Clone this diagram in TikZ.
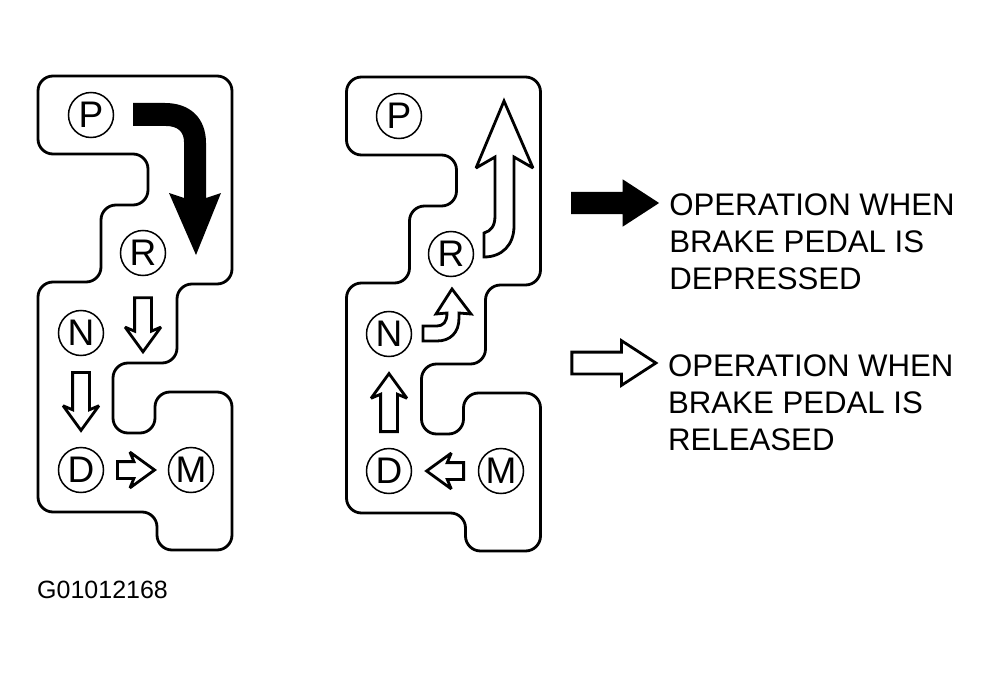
\documentclass[tikz,border=0pt]{standalone}
\usepackage{fontspec}
\setmainfont{Liberation Sans}
\usetikzlibrary{positioning,shapes.arrows}

\tikzset{
    gate/.pic={
        \draw[gateline] (38,76) -- (232,76) -- (232,284) -- (177,284) -- (177,363) -- (113,363)
            -- (113,433) -- (155,433) -- (155,392) -- (232,392) -- (232,550) -- (157,550)
            -- (157,512) -- (38,512) -- (38,282) -- (101,282) -- (101,205) -- (148,205)
            -- (148,154) -- (38,154) -- cycle;
    }
}

\begin{document}
\begin{tikzpicture}[
    x=1pt, y=-1pt,
    gateline/.style={line width=2.8pt, rounded corners=15pt},
    lever/.style={on grid, draw, circle, line width=1.5pt, minimum size=45pt, inner sep=0pt, font=\fontsize{37}{37}\selectfont},
    hollowarrow/.style={on grid, draw, line width=2.8pt, fill=white, single arrow, inner xsep=0pt, inner ysep=7pt, outer sep=0pt, minimum width=33pt, single arrow head extend=9.5pt, single arrow tip angle=72, single arrow head indent=4pt, miter limit=3},
    keyarrow/.style={on grid, single arrow, inner xsep=0pt, inner ysep=11pt, outer sep=0pt, minimum height=88pt, minimum width=47pt, single arrow head extend=12.5pt, single arrow tip angle=66, single arrow head indent=0pt},
    keytext/.style={align=left, inner sep=0pt, font=\fontsize{31.2}{37}\selectfont},
    curved/.style={line width=2.8pt, fill=white, miter limit=3}
]
\useasboundingbox (0,0) rectangle (991,674);

% left gate
\pic at (0,0) {gate};
\node[lever] (lP) at (91,115) {P};
\node[lever, below right=138pt and 52pt of lP] (lR) {R};
\node[lever, below left=80pt and 62pt of lR] (lN) {N};
\node[lever, below=137pt of lN] (lD) {D};
\node[lever, right=110pt of lD] (lM) {M};
\fill (133,103) -- (165,103) .. controls (190,103) and (206,118) .. (206,143) -- (206,198) -- (221,193)
    -- (196,255) -- (169,193) -- (184,198) -- (184,142) .. controls (184,132) and (178,126) .. (166,126)
    -- (133,126) -- cycle;
\node[hollowarrow, minimum height=54pt, rotate=-90, below=66pt of lR] (lRdown) {};
\path (lN) -- node[hollowarrow, sloped, allow upside down, pos=.435, minimum height=58pt] (lNtoD) {} (lD);
\path (lD) -- node[hollowarrow, sloped, allow upside down, pos=.41, minimum height=37pt] (lDtoM) {} (lM);

% right gate
\pic at (308.5,1) {gate};
\node[lever] (rP) at (399,116) {P};
\node[lever, below right=138pt and 52pt of rP] (rR) {R};
\node[lever, below left=80pt and 62pt of rR] (rN) {N};
\node[lever, below=137pt of rN] (rD) {D};
\node[lever, right=112pt of rD] (rM) {M};
\draw[curved] (484,233) .. controls (491,231) and (495,226) .. (495,216) -- (495,157) -- (476,168) -- (504,101)
    -- (533,168) -- (514,157) -- (514,226) .. controls (514,245) and (502,257) .. (484,257) -- cycle;
\draw[curved] (423,326) -- (437,326) .. controls (443,326) and (447,322) .. (447,313) -- (436,314) -- (452,289)
    -- (471,314) -- (459,313) -- (459,318) .. controls (459,333) and (450,341) .. (437,341) -- (423,341) -- cycle;
\path (rD) -- node[hollowarrow, sloped, allow upside down, pos=.435, minimum height=58pt] (rDtoN) {} (rN);
\path (rM) -- node[hollowarrow, sloped, allow upside down, pos=.41, minimum height=37pt] (rMtoD) {} (rD);

% legend
\node[keyarrow, fill=black] (keydown) at (606.5,203) {};
\node[keyarrow, draw, line width=2.8pt, fill=white, minimum height=84pt, inner ysep=9.5pt, minimum width=42pt, single arrow head extend=11.5pt, below=160pt of keydown, xshift=-1pt] (keyup) {};
\node[keytext, right=10pt of keydown, yshift=-38.5pt] (textdown) {OPERATION WHEN\\BRAKE PEDAL IS\\DEPRESSED};
\node[keytext, right=12pt of keyup, yshift=-40pt] (textup) {OPERATION WHEN\\BRAKE PEDAL IS\\RELEASED};

\node[anchor=west, inner sep=0pt, font=\fontsize{25}{25}\selectfont] (figid) at (37,590) {G01012168};
\end{tikzpicture}
\end{document}
